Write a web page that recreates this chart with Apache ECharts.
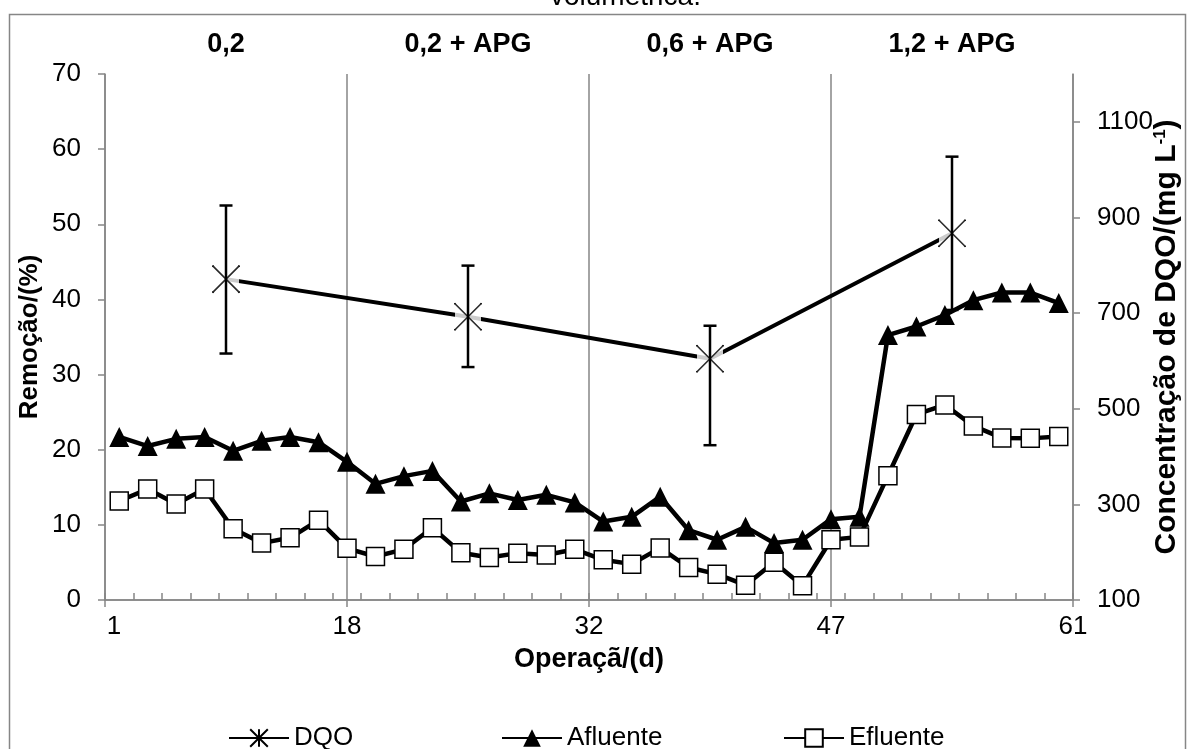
<!DOCTYPE html>
<html>
<head>
<meta charset="utf-8">
<script src="https://cdn.jsdelivr.net/npm/echarts@6/dist/echarts.min.js"></script>
<style>
html,body{margin:0;padding:0;background:#fff;}
#c{width:1188px;height:749px;}
</style>
</head>
<body>
<div id="c"></div>
<script>
// ---- data ----
const pointIds = ['1','2','3','4','5','6','7','8','9','10','11','12','13','14','15','16','17',
  '18','19','20','21','22','23','24','25','26','27','28','29','30','31','32','33','34'];
const afluente = [441, 422, 437, 441, 412, 433, 441, 430, 389, 343, 359, 370, 306, 323, 309, 320, 304,
  264, 274, 316, 246, 226, 253, 219, 226, 269, 274, 654, 672, 696, 727, 743, 743, 721];
const efluente = [307, 332, 301, 332, 249, 219, 230, 267, 208, 191, 206, 251, 199, 189, 198, 194, 206,
  184, 175, 209, 168, 154, 131, 179, 130, 226, 232, 360, 488, 508, 464, 439, 438, 442];
const phaseLabels = ['0,2', '0,2 + APG', '0,6 + APG', '1,2 + APG'];
const dayTickLabels = ['1', '18', '32', '47', '61'];
const dqoPos = [0.5, 1.5, 2.5, 3.5];
const dqoMean = [42.7, 37.7, 32.1, 48.8];
const dqoLow = [32.8, 31.0, 20.6, 38.6];
const dqoHigh = [52.5, 44.5, 36.5, 59.0];

// ---- styles ----
const GRAY = '#868686';
const FONT = 'Liberation Sans, Arial, sans-serif';
const starPath = 'path://M0,0L20,20M20,0L0,20M10,0L10,20';
const LABEL_SIZE = 26;

const dqoData = dqoPos.map((x, i) => [x, dqoMean[i]]);
const dqoErrData = dqoPos.map((x, i) => [x, dqoLow[i], dqoHigh[i]]);

const legendText = {fontFamily: FONT, fontSize: LABEL_SIZE, color: '#000'};

const chart = echarts.init(document.getElementById('c'), null, {renderer: 'canvas'});
chart.setOption({
  animation: false,
  backgroundColor: '#fff',
  textStyle: {fontFamily: FONT},
  title: {
    text: 'volumétrica.', left: 545, top: -22,
    textStyle: {fontFamily: FONT, fontSize: 28, fontWeight: 'normal', color: '#000'}
  },
  graphic: [{
    type: 'rect', left: 7, top: 12, silent: true, z: -10,
    shape: {width: 1176, height: 800},
    style: {fill: 'none', stroke: GRAY, lineWidth: 1.5}
  }],
  grid: {left: 105, right: 115, top: 74, bottom: 149, containLabel: false, outerBoundsMode: 'none'},
  xAxis: [
    { // data category axis (top, ticks at category boundaries)
      type: 'category', position: 'top', data: pointIds, boundaryGap: true,
      axisLine: {show: true, lineStyle: {color: GRAY, width: 1.5}},
      axisTick: {show: true, inside: false, length: 7, lineStyle: {color: GRAY, width: 1.5}},
      axisLabel: {show: false}, splitLine: {show: false}
    },
    { // bottom value axis for the four periods
      type: 'value', position: 'bottom', min: 0, max: 4, interval: 1,
      name: 'Operaçã/(d)', nameLocation: 'middle', nameGap: 46, nameMoveOverlap: false,
      nameTextStyle: {fontFamily: FONT, fontSize: 27, fontWeight: 'bold', color: '#000'},
      axisLine: {show: true, onZero: false, lineStyle: {color: GRAY, width: 1.5}},
      axisTick: {show: true, length: 7, lineStyle: {color: GRAY, width: 1.5}},
      axisLabel: {
        show: true, margin: 14, fontFamily: FONT, fontSize: LABEL_SIZE, color: '#000',
        showMinLabel: true, showMaxLabel: true,
        formatter: function (v) {
          const s = dayTickLabels[Math.round(v)] || '';
          return Math.round(v) === 0 ? '{f|' + s + '}' : s;
        },
        rich: {f: {fontFamily: FONT, fontSize: LABEL_SIZE, color: '#000', padding: [0, 0, 0, 18]}}
      },
      splitLine: {show: true, lineStyle: {color: GRAY, width: 1.5}}
    },
    { // phase labels on top
      type: 'category', position: 'top', data: phaseLabels, boundaryGap: true,
      axisLine: {show: false}, axisTick: {show: false}, splitLine: {show: false},
      axisLabel: {show: true, margin: 16, fontFamily: FONT, fontSize: 27, fontWeight: 'bold', color: '#000', interval: 0}
    }
  ],
  yAxis: [
    {
      type: 'value', position: 'left', min: 0, max: 70, interval: 10,
      name: 'Remoção/(%)', nameLocation: 'middle', nameGap: 62, nameRotate: 90, nameMoveOverlap: false,
      nameTextStyle: {fontFamily: FONT, fontSize: 26, fontWeight: 'bold', color: '#000'},
      axisLine: {show: true, onZero: false, lineStyle: {color: GRAY, width: 1.5}},
      axisTick: {show: true, length: 7, lineStyle: {color: GRAY, width: 1.5}},
      axisLabel: {margin: 24, fontFamily: FONT, fontSize: LABEL_SIZE, color: '#000'},
      splitLine: {show: false}
    },
    {
      type: 'value', position: 'right', min: 100, max: 1200, interval: 200,
      name: 'Concentração de DQO/(mg L{sup|-1})', nameLocation: 'middle', nameGap: 79, nameRotate: 90,
      nameMoveOverlap: false,
      nameTextStyle: {
        fontFamily: FONT, fontSize: 30, fontWeight: 'bold', color: '#000',
        rich: {sup: {fontFamily: FONT, fontSize: 17, fontWeight: 'bold', color: '#000', verticalAlign: 'top', padding: [0, 0, 12, 0]}}
      },
      axisLine: {show: true, onZero: false, lineStyle: {color: GRAY, width: 1.5}},
      axisTick: {show: true, length: 7, lineStyle: {color: GRAY, width: 1.5}},
      axisLabel: {
        margin: 24, fontFamily: FONT, fontSize: LABEL_SIZE, color: '#000', showMaxLabel: false,
        formatter: function (v) { return String(v); }
      },
      splitLine: {show: false}
    }
  ],
  legend: [
    {data: ['DQO'], left: 223, top: 720, itemWidth: 60, itemHeight: 22, itemGap: 4, textStyle: legendText},
    {data: ['Afluente'], left: 496, top: 720, itemWidth: 60, itemHeight: 22, itemGap: 4, textStyle: legendText},
    {data: ['Efluente'], left: 778, top: 720, itemWidth: 60, itemHeight: 22, itemGap: 4, textStyle: legendText}
  ],
  series: [
    {
      name: 'DQO', type: 'line', xAxisIndex: 1, yAxisIndex: 0, data: dqoData,
      color: '#000', symbol: starPath, symbolSize: 27, z: 3,
      itemStyle: {color: 'rgba(0,0,0,0)', borderColor: '#000', borderWidth: 1.5},
      lineStyle: {color: '#000', width: 4}
    },
    {
      name: 'DQOmask', type: 'scatter', xAxisIndex: 1, yAxisIndex: 0, data: dqoData,
      symbol: 'rect', symbolSize: 26, z: 4, silent: true,
      itemStyle: {color: '#fff'}
    },
    {
      name: 'DQOerr', type: 'custom', xAxisIndex: 1, yAxisIndex: 0, data: dqoErrData, z: 5, silent: true,
      encode: {x: 0, y: [1, 2]},
      renderItem: function (params, api) {
        const x = api.value(0);
        const pLo = api.coord([x, api.value(1)]);
        const pHi = api.coord([x, api.value(2)]);
        const w = 6.5;
        const style = {stroke: '#000', lineWidth: 2.5};
        return {type: 'group', children: [
          {type: 'line', shape: {x1: pLo[0], y1: pLo[1], x2: pHi[0], y2: pHi[1]}, style: style},
          {type: 'line', shape: {x1: pHi[0] - w, y1: pHi[1], x2: pHi[0] + w, y2: pHi[1]}, style: style},
          {type: 'line', shape: {x1: pLo[0] - w, y1: pLo[1], x2: pLo[0] + w, y2: pLo[1]}, style: style}
        ]};
      }
    },
    {
      name: 'DQOstar', type: 'scatter', xAxisIndex: 1, yAxisIndex: 0, data: dqoData,
      symbol: starPath, symbolSize: 27, z: 6, silent: true,
      itemStyle: {color: 'rgba(0,0,0,0)', borderColor: '#000', borderWidth: 1.5}
    },
    {
      name: 'Afluente', type: 'line', xAxisIndex: 0, yAxisIndex: 1, data: afluente,
      color: '#000', symbol: 'triangle', symbolSize: 20, showAllSymbol: true, z: 7,
      itemStyle: {color: '#000'},
      lineStyle: {color: '#000', width: 4.5}
    },
    {
      name: 'Efluente', type: 'line', xAxisIndex: 0, yAxisIndex: 1, data: efluente,
      color: '#000', symbol: 'rect', symbolSize: 18, showAllSymbol: true, z: 8,
      itemStyle: {color: '#fff', borderColor: '#000', borderWidth: 1.5},
      lineStyle: {color: '#000', width: 4.5}
    }
  ]
});
</script>
</body>
</html>
